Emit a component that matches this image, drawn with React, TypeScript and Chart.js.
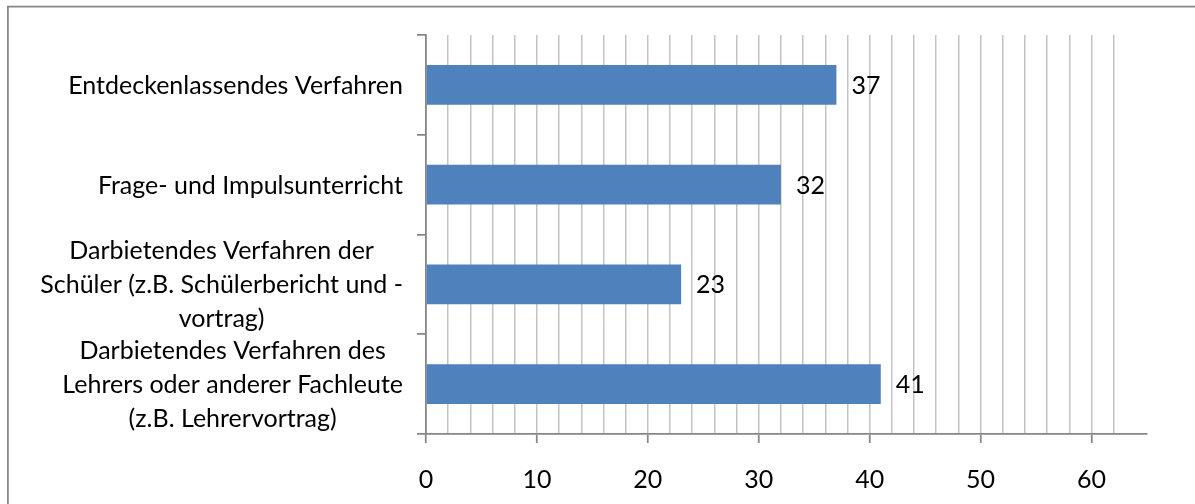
import { useEffect, useRef } from "react";
import { Chart, registerables } from "chart.js";

Chart.register(...registerables);

// Category labels (one entry per line of a wrapped label)
const categories: string[][] = [
  ["Entdeckenlassendes Verfahren"],
  ["Frage- und Impulsunterricht"],
  ["Darbietendes Verfahren der", "Schüler (z.B. Schülerbericht und -", "vortrag)"],
  ["Darbietendes Verfahren des", "Lehrers oder anderer Fachleute", "(z.B. Lehrervortrag)"],
];

// Bar values
const values: number[] = [37, 32, 23, 41];

// Value axis: range, grid step and labelled step
const axisMin = 0;
const axisMax = 65;
const gridStep = 2;
const labelStep = 10;

const FONT_FAMILY = "Lato, 'Noto Sans', sans-serif";
const FONT_SIZE = 25;
const LINE_HEIGHT = 34;
const AXIS_COLOR = "#868686";
const GRID_COLOR = "#c3c3c3";
const BAR_COLOR = "#4f81bd";
const TEXT_COLOR = "#000000";

const font = `${FONT_SIZE}px ${FONT_FAMILY}`;

// Outer frame of the chart
const framePlugin = {
  id: "frame",
  beforeDraw(chart: any) {
    const { ctx, width, height } = chart;
    ctx.save();
    ctx.fillStyle = "#ffffff";
    ctx.fillRect(0, 0, width, height);
    ctx.strokeStyle = AXIS_COLOR;
    ctx.lineWidth = 1.75;
    ctx.strokeRect(7.9, 6.6, width + 20, height + 20);
    ctx.restore();
  },
};

// Wrapped category labels: each block right-aligned to the axis, its lines centred within the block
const categoryLabelPlugin = {
  id: "categoryLabels",
  afterDraw(chart: any) {
    const { ctx } = chart;
    const y = chart.scales.y;
    const right = y.right - 23;
    ctx.save();
    ctx.font = font;
    ctx.fillStyle = TEXT_COLOR;
    ctx.textAlign = "center";
    ctx.textBaseline = "alphabetic";
    const cap = ctx.measureText("H").actualBoundingBoxAscent;
    categories.forEach((lines, i) => {
      const cy = y.getPixelForValue(i);
      const w = Math.max(...lines.map((l) => ctx.measureText(l).width));
      const cx = right - w / 2;
      lines.forEach((line, j) => {
        const ly = cy + (j - (lines.length - 1) / 2) * LINE_HEIGHT;
        ctx.fillText(line, cx, ly + cap / 2);
      });
    });
    ctx.restore();
  },
};

// Value labels next to the bar ends
const valueLabelPlugin = {
  id: "valueLabels",
  afterDatasetsDraw(chart: any) {
    const { ctx } = chart;
    const meta = chart.getDatasetMeta(0);
    ctx.save();
    ctx.font = font;
    ctx.fillStyle = TEXT_COLOR;
    ctx.textAlign = "left";
    ctx.textBaseline = "alphabetic";
    const cap = ctx.measureText("0").actualBoundingBoxAscent;
    meta.data.forEach((bar: any, i: number) => {
      ctx.fillText(String(values[i]), bar.x + 15, bar.y + cap / 2);
    });
    ctx.restore();
  },
};

export default function App() {
  const canvasRef = useRef<HTMLCanvasElement | null>(null);

  useEffect(() => {
    const canvas = canvasRef.current;
    if (!canvas) return;
    const chart = new Chart(canvas, {
      type: "bar",
      data: {
        labels: categories.map((c) => c.join(" ")),
        datasets: [
          {
            data: values,
            backgroundColor: BAR_COLOR,
            borderWidth: 0,
            categoryPercentage: 1,
            barPercentage: 0.4,
          },
        ],
      },
      options: {
        indexAxis: "y",
        responsive: false,
        animation: false,
        events: [],
        layout: { padding: { left: 0, top: 35, right: 48, bottom: 0 } },
        plugins: {
          legend: { display: false },
          tooltip: { enabled: false },
        },
        scales: {
          x: {
            type: "linear",
            min: axisMin,
            max: axisMax,
            afterBuildTicks: (scale: any) => {
              scale.ticks = scale.ticks.filter((t: any) => t.value % gridStep === 0);
            },
            afterFit: (scale: any) => {
              scale.height = 70;
            },
            ticks: {
              stepSize: gridStep,
              autoSkip: false,
              maxRotation: 0,
              padding: 22,
              color: TEXT_COLOR,
              font: { family: FONT_FAMILY, size: FONT_SIZE },
              callback: (v: any) => (Number(v) % labelStep === 0 ? String(v) : ""),
            },
            grid: {
              color: GRID_COLOR,
              lineWidth: 1.5,
              drawTicks: true,
              tickLength: 9,
              tickWidth: 1.75,
              tickColor: (c: any) =>
                c.tick && c.tick.value % labelStep === 0 ? AXIS_COLOR : "rgba(0,0,0,0)",
            },
            border: { display: true, color: AXIS_COLOR, width: 1.75 },
          },
          y: {
            type: "category",
            afterFit: (scale: any) => {
              scale.width = 426;
            },
            ticks: { display: false },
            grid: {
              offset: true,
              drawOnChartArea: false,
              drawTicks: true,
              tickLength: 9,
              color: AXIS_COLOR,
              lineWidth: 1.75,
            },
            border: { display: true, color: AXIS_COLOR, width: 1.75 },
          },
        },
      },
      plugins: [framePlugin, categoryLabelPlugin, valueLabelPlugin],
    });
    return () => chart.destroy();
  }, []);

  return (
    <div style={{ position: "absolute", left: 0, top: 0, width: 1195, height: 504 }}>
      <canvas ref={canvasRef} width={1195} height={504} />
    </div>
  );
}
